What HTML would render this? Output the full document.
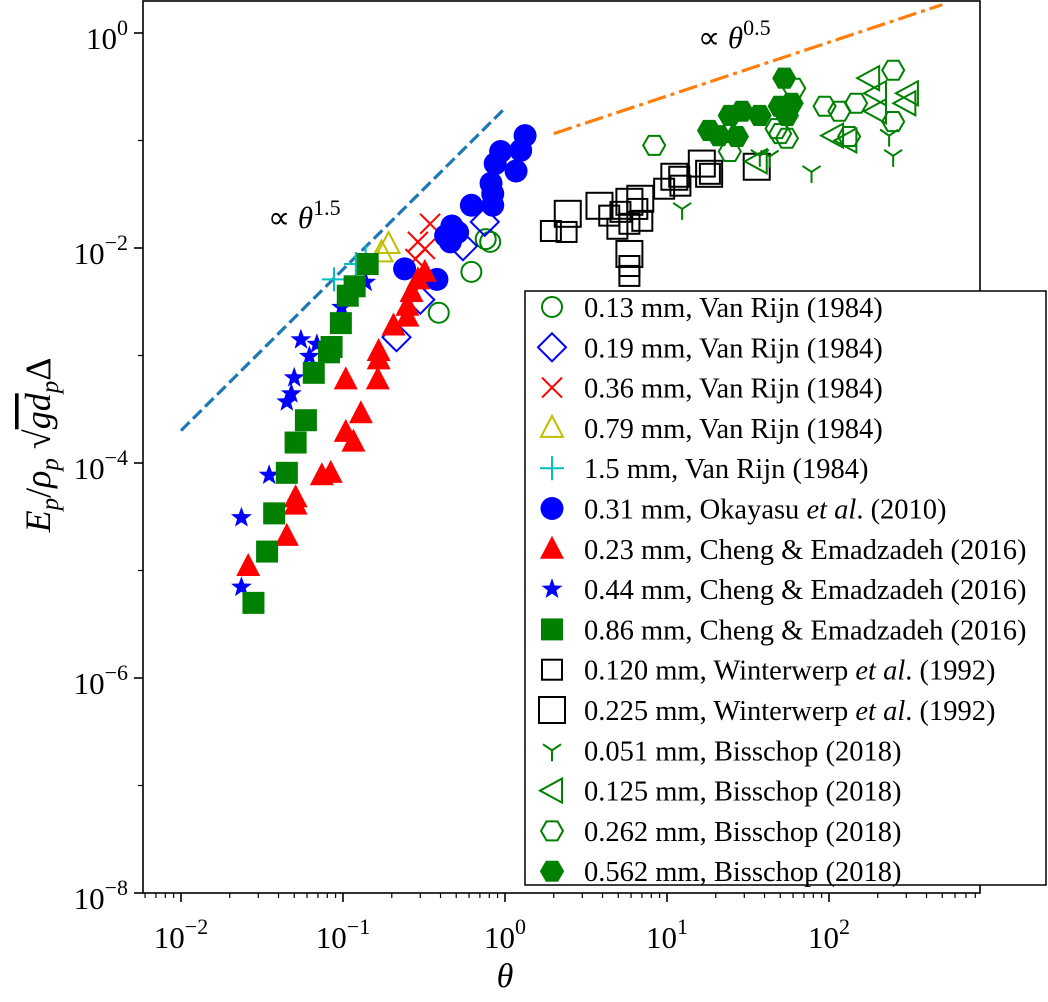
<!DOCTYPE html>
<html><head><meta charset="utf-8"><style>
html,body{margin:0;padding:0;background:#fff;}
svg text{font-family:"Liberation Serif",serif;}
</style></head><body>
<svg id="chart" width="1048" height="997" viewBox="0 0 1048 997" xmlns="http://www.w3.org/2000/svg">
<rect x="0" y="0" width="1048" height="997" fill="#fff"/>
<g id="marks"></g>
<g id="axes"></g>
<g id="legend"></g>
</svg>
<script>
// ---- data ----
const vr013_theta=[0.81,0.76,0.62,0.39];
const vr013_E=[0.0114,0.0121,0.006,0.0025];
const vr019_theta=[0.75,0.55,0.30,0.214];
const vr019_E=[0.0175,0.0104,0.0033,0.00148];
const vr036_theta=[0.29,0.32,0.345,0.28];
const vr036_E=[0.0114,0.0098,0.0168,0.0079];
const vr079_theta=[0.191,0.173];
const vr079_E=[0.0109,0.0091];
const vr15_theta=[0.088,0.12,0.138];
const vr15_E=[0.0051,0.0071,0.0083];
const oka_theta=[1.33,0.94,1.25,0.87,1.17,0.82,0.84,0.62,0.84,0.47,0.43,0.51,0.24,0.38,0.46];
const oka_E=[0.111,0.079,0.081,0.061,0.052,0.040,0.032,0.025,0.025,0.016,0.013,0.014,0.0064,0.0051,0.0114];
const ce023_theta=[0.32,0.29,0.265,0.25,0.25,0.205,0.166,0.166,0.104,0.164,0.129,0.104,0.116,0.084,0.074,0.051,0.051,0.045,0.026];
const ce023_E=[0.0060,0.0051,0.0039,0.0029,0.0023,0.0019,0.0011,0.00092,0.0006,0.0006,0.00029,0.000195,0.000158,8.1e-5,7.7e-5,4.8e-5,4.1e-5,2.1e-5,1.1e-5];
const ce044_theta=[0.055,0.069,0.062,0.050,0.048,0.045,0.035,0.0236,0.0236,0.098,0.138];
const ce044_E=[0.0014,0.00127,0.00098,0.00062,0.00044,0.00037,7.7e-5,3.1e-5,7.0e-6,0.0028,0.0048];
const ce086_theta=[0.142,0.118,0.107,0.097,0.085,0.082,0.066,0.059,0.051,0.045,0.0376,0.034,0.028];
const ce086_E=[0.0071,0.0044,0.0036,0.0020,0.0012,0.00107,0.00069,0.00025,0.000155,8.1e-5,3.4e-5,1.5e-5,5.0e-6];
const w120_theta=[1.92,2.40,4.4,4.94,5.86,5.86,5.86,7.04,9.6,11.9,12.1,18.4,5.16,6.56];
const w120_E=[0.0144,0.0141,0.0200,0.0151,0.0168,0.0068,0.0055,0.0179,0.0356,0.046,0.038,0.049,0.0217,0.0231];
const w225_theta=[2.44,3.83,5.86,5.86,6.84,11.1,16.4,18.2,35.8];
const w225_E=[0.0208,0.0247,0.0269,0.0088,0.0287,0.046,0.061,0.049,0.057];
const b051_theta=[12.4,43,78,249,235,37.4];
const b051_E=[0.0231,0.071,0.051,0.072,0.111,0.072];
const b125_theta=[177,195,307,296,106,128,195,35.8];
const b125_E=[0.38,0.275,0.275,0.222,0.111,0.1,0.187,0.064];
const b262_theta=[8.34,61,94,116,147,249,249,133,50,55,24.4,47.5];
const b262_E=[0.090,0.306,0.208,0.187,0.222,0.45,0.15,0.109,0.116,0.105,0.079,0.129];
const b562_theta=[53,18.2,24.4,29,37.3,49.6,58.8,55,27,20.9];
const b562_E=[0.38,0.124,0.171,0.187,0.171,0.208,0.222,0.171,0.109,0.111];
const xTickExps=[-2,-1,0,1,2];
const yTickExps=[0,-2,-4,-6,-8];

// ---- axes functions ----
const L=143,R=980,T=1,B=893;
function X(t){return 505+162*Math.log10(t);}
function Y(e){return 33-107.5*Math.log10(e);}
const NS="http://www.w3.org/2000/svg";
function mk(tag,attrs,parent){const el=document.createElementNS(NS,tag);for(const k in attrs)el.setAttribute(k,attrs[k]);parent.appendChild(el);return el;}
const marks=document.getElementById('marks');
const axes=document.getElementById('axes');
const legend=document.getElementById('legend');

// reference lines
const c15=0.2, c05=0.082;
const l1=mk('line',{x1:X(0.01),y1:Y(c15*Math.pow(0.01,1.5)),x2:X(1),y2:Y(c15),stroke:'#1f77b4','stroke-width':3.2,'stroke-dasharray':'12,5'},marks);


const l2=mk('line',{x1:X(2),y1:Y(c05*Math.sqrt(2)),x2:X(500),y2:Y(c05*Math.sqrt(500)),stroke:'#ff7f0e','stroke-width':3.2,'stroke-dasharray':'19,5,4,5'},marks);



function marker(type,cx,cy,parent,col){
  let el;
  if(type==='o') el=mk('circle',{cx:cx,cy:cy,r:10,fill:'none',stroke:col,'stroke-width':2},parent);
  else if(type==='O') el=mk('circle',{cx:cx,cy:cy,r:11.5,fill:col},parent);
  else if(type==='D') el=mk('polygon',{points:`${cx},${cy-14} ${cx+14},${cy} ${cx},${cy+14} ${cx-14},${cy}`,fill:'none',stroke:col,'stroke-width':2},parent);
  else if(type==='x') el=mk('path',{d:`M${cx-10},${cy-10}L${cx+10},${cy+10}M${cx-10},${cy+10}L${cx+10},${cy-10}`,stroke:col,'stroke-width':2,fill:'none'},parent);
  else if(type==='+') el=mk('path',{d:`M${cx-12},${cy}L${cx+12},${cy}M${cx},${cy-12}L${cx},${cy+12}`,stroke:col,'stroke-width':2,fill:'none'},parent);
  else if(type==='^') el=mk('polygon',{points:`${cx},${cy-12} ${cx+11},${cy+9} ${cx-11},${cy+9}`,fill:'none',stroke:col,'stroke-width':2},parent);
  else if(type==='A') el=mk('polygon',{points:`${cx},${cy-13} ${cx+12},${cy+10} ${cx-12},${cy+10}`,fill:col},parent);
  else if(type==='<') el=mk('polygon',{points:`${cx-12},${cy} ${cx+10},${cy-12} ${cx+10},${cy+12}`,fill:'none',stroke:col,'stroke-width':2},parent);
  else if(type==='s') el=mk('rect',{x:cx-11,y:cy-11,width:22,height:22,fill:col},parent);
  else if(type==='q') el=mk('rect',{x:cx-10,y:cy-10,width:20,height:20,fill:'none',stroke:col,'stroke-width':2},parent);
  else if(type==='Q') el=mk('rect',{x:cx-13,y:cy-13,width:26,height:26,fill:'none',stroke:col,'stroke-width':2},parent);
  else if(type==='Y') el=mk('path',{d:`M${cx},${cy}L${cx},${cy+11}M${cx},${cy}L${cx-9},${cy-6}M${cx},${cy}L${cx+9},${cy-6}`,stroke:col,'stroke-width':2,fill:'none'},parent);
  else if(type==='h'||type==='H'){
    let p=[];for(let i=0;i<6;i++){const a=Math.PI/6+i*Math.PI/3-Math.PI/2;p.push((cx+11*Math.cos(a)).toFixed(1)+','+(cy+11*Math.sin(a)).toFixed(1));}
    el=mk('polygon',{points:p.join(' '),fill:type==='H'?col:'none',stroke:col,'stroke-width':2},parent);
  }
  else if(type==='*'){
    let p=[];for(let i=0;i<10;i++){const r=i%2?4.5:11;const a=-Math.PI/2+i*Math.PI/5;p.push((cx+r*Math.cos(a)).toFixed(1)+','+(cy+r*Math.sin(a)).toFixed(1));}
    el=mk('polygon',{points:p.join(' '),fill:col},parent);
  }
  return el;
}

const series=[
 {n:'vanrijn-013',t:vr013_theta,e:vr013_E,m:'o',c:'#008000',lab:'0.13 mm, Van Rijn (1984)'},
 {n:'vanrijn-019',t:vr019_theta,e:vr019_E,m:'D',c:'#0000ff',lab:'0.19 mm, Van Rijn (1984)'},
 {n:'vanrijn-036',t:vr036_theta,e:vr036_E,m:'x',c:'#ff0000',lab:'0.36 mm, Van Rijn (1984)'},
 {n:'vanrijn-079',t:vr079_theta,e:vr079_E,m:'^',c:'#bfbf00',lab:'0.79 mm, Van Rijn (1984)'},
 {n:'vanrijn-15',t:vr15_theta,e:vr15_E,m:'+',c:'#00bfbf',lab:'1.5 mm, Van Rijn (1984)'},
 {n:'okayasu-031',t:oka_theta,e:oka_E,m:'O',c:'#0000ff',lab:'0.31 mm, Okayasu <tspan font-style="italic">et al</tspan>. (2010)'},
 {n:'cheng-023',t:ce023_theta,e:ce023_E,m:'A',c:'#ff0000',lab:'0.23 mm, Cheng &amp; Emadzadeh (2016)'},
 {n:'cheng-044',t:ce044_theta,e:ce044_E,m:'*',c:'#0000ff',lab:'0.44 mm, Cheng &amp; Emadzadeh (2016)'},
 {n:'cheng-086',t:ce086_theta,e:ce086_E,m:'s',c:'#008000',lab:'0.86 mm, Cheng &amp; Emadzadeh (2016)'},
 {n:'winterwerp-0120',t:w120_theta,e:w120_E,m:'q',c:'#000000',lab:'0.120 mm, Winterwerp <tspan font-style="italic">et al</tspan>. (1992)'},
 {n:'winterwerp-0225',t:w225_theta,e:w225_E,m:'Q',c:'#000000',lab:'0.225 mm, Winterwerp <tspan font-style="italic">et al</tspan>. (1992)'},
 {n:'bisschop-0051',t:b051_theta,e:b051_E,m:'Y',c:'#008000',lab:'0.051 mm, Bisschop (2018)'},
 {n:'bisschop-0125',t:b125_theta,e:b125_E,m:'<',c:'#008000',lab:'0.125 mm, Bisschop (2018)'},
 {n:'bisschop-0262',t:b262_theta,e:b262_E,m:'h',c:'#008000',lab:'0.262 mm, Bisschop (2018)'},
 {n:'bisschop-0562',t:b562_theta,e:b562_E,m:'H',c:'#008000',lab:'0.562 mm, Bisschop (2018)'}
];
series.forEach(s=>{
  const g=mk('g',{},marks);
  
  
  for(let i=0;i<s.t.length;i++){
    const el=marker(s.m,X(s.t[i]),Y(s.e[i]),g,s.c);
    
    
  }
});

// annotations
const a1=mk('text',{x:268,y:228,'font-size':31},marks);
a1.innerHTML='∝ <tspan font-style="italic">θ</tspan><tspan font-size="22" dy="-13">1.5</tspan>';


const a2=mk('text',{x:698,y:48,'font-size':31},marks);
a2.innerHTML='∝ <tspan font-style="italic">θ</tspan><tspan font-size="22" dy="-13">0.5</tspan>';



// axes frame
const fr=mk('rect',{x:L,y:T,width:R-L,height:B-T,fill:'none',stroke:'#000','stroke-width':1.6},axes);


for(let d=-3;d<=2;d++){for(let k=2;k<=9;k++){const v=k*Math.pow(10,d);const x=X(v);if(x>L&&x<R)mk('line',{x1:x,y1:B,x2:x,y2:B+5,stroke:'#000','stroke-width':1.2},axes);}}
xTickExps.forEach(p=>{
  const x=X(Math.pow(10,p));
  mk('line',{x1:x,y1:B,x2:x,y2:B+9,stroke:'#000','stroke-width':1.6},axes);
  const t=mk('text',{x:x,y:948,'font-size':31,'text-anchor':'middle'},axes);
  t.innerHTML='10<tspan font-size="22" dy="-14">'+(p<0?'−'+(-p):p)+'</tspan>';
  
  
});
for(let p=-7;p<=0;p+=2){const y=Y(Math.pow(10,p));mk('line',{x1:L,y1:y,x2:L-5,y2:y,stroke:'#000','stroke-width':1.2},axes);}
yTickExps.forEach(p=>{
  const y=Y(Math.pow(10,p));
  mk('line',{x1:L,y1:y,x2:L-9,y2:y,stroke:'#000','stroke-width':1.6},axes);
  const t=mk('text',{x:128,y:y+16,'font-size':31,'text-anchor':'end'},axes);
  t.innerHTML='10<tspan font-size="22" dy="-14">'+(p<0?'−'+(-p):p)+'</tspan>';
  
  
});
const xl=mk('text',{x:505,y:987,'font-size':34,'font-style':'italic','text-anchor':'middle'},axes);
xl.textContent='θ';


const yl=mk('text',{x:0,y:0,'font-size':36,'text-anchor':'middle',transform:'translate(50,445) rotate(-90)'},axes);
yl.innerHTML='<tspan font-style="italic">E</tspan><tspan font-size="25" font-style="italic" dy="8">p</tspan><tspan dy="-8">/</tspan><tspan font-style="italic">ρ</tspan><tspan font-size="25" font-style="italic" dy="8">p</tspan><tspan dy="-8"> √</tspan><tspan font-style="italic" text-decoration="overline">gd</tspan><tspan font-size="25" font-style="italic" dy="8">p</tspan><tspan dy="-8">Δ</tspan>';



// legend
const lb=mk('rect',{x:525,y:291,width:521,height:594,fill:'#fff',stroke:'#000','stroke-width':1.5},legend);


series.forEach((s,i)=>{
  const cy=307+i*40.3;
  const g=mk('g',{},legend);
  
  
  marker(s.m,552,cy,g,s.c);
  const t=mk('text',{x:584,y:cy+10,'font-size':28.5},g);
  t.innerHTML=s.lab;
});
</script>
</body></html>
